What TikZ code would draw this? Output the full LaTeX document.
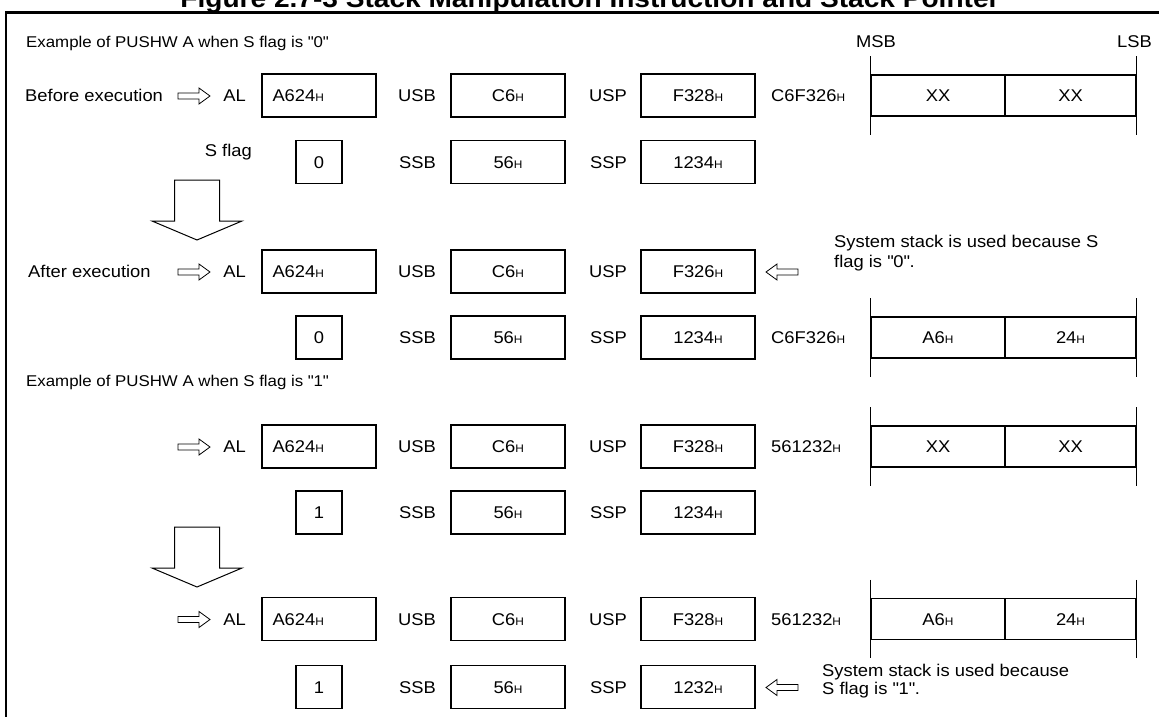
\documentclass[tikz,border=0pt]{standalone}
\usepackage{fontspec}
\setmainfont{Liberation Sans}[FakeStretch=1.08]
\newcommand\mfont{\fontsize{17}{19}\selectfont}
\newcommand\exfont{\fontsize{15.6}{18}\selectfont}
\newcommand\hsub{{\fontsize{11}{11}\selectfont H}}
\newcommand\qq{\textquotedbl}
\tikzset{
  lbl/.style={inner sep=0pt, font=\mfont, text height=12.2pt, text depth=0pt},
  exl/.style={inner sep=0pt, font=\exfont, text height=11.2pt, text depth=0pt},
  reg/.style={draw, line width=1.1pt, minimum width=114pt, minimum height=43pt, inner sep=0pt, font=\mfont, text height=12.2pt, text depth=0pt},
  regl/.style={reg, align=left, text width=93pt, inner xsep=10.5pt},
  fbox/.style={reg, minimum width=46pt},
  cell/.style={draw, line width=1.1pt, minimum height=41pt, inner sep=0pt, font=\mfont, text height=12.2pt, text depth=0pt},
  stk/.style={line width=1.1pt},
  hol/.style={line width=0.8pt, line join=miter},
  rarr/.pic={\draw[hol] (-16,-3) -- (5,-3) -- (5,-8) -- (16,0) -- (5,8) -- (5,3) -- (-16,3) -- cycle;},
  larr/.pic={\draw[hol] (16,-3) -- (-5,-3) -- (-5,-8) -- (-16,0) -- (-5,8) -- (-5,3) -- (16,3) -- cycle;},
  bigdown/.pic={\draw[line width=1pt, line join=miter] (-22.5,0) -- (22.5,0) -- (22.5,41) -- (45,41) -- (0,60) -- (-45,41) -- (-22.5,41) -- cycle;}
}
\begin{document}
\begin{tikzpicture}[x=1pt,y=-1pt]
\useasboundingbox (0,0) rectangle (1159,717);
\clip (0,0) rectangle (1159,717);
% title (cut off at the top, as in the source) and frame
\node[font=\bfseries\fontsize{26}{26}\selectfont, anchor=base, inner sep=0pt] (title) at (590,8) {Figure 2.7-3 Stack Manipulation Instruction and Stack Pointer};
\draw[line width=2.5pt, line join=miter] (6,720) -- (6,12.5) -- (1162,12.5);

% ---------- Example S = 0 ----------
\node[exl, anchor=west] (ex1) at (26,41.5) {Example of PUSHW A when S flag is \qq0\qq};
\node[lbl] (msb) at (876,41.5) {MSB};
\node[lbl] (lsb) at (1134.5,41.5) {LSB};

% Row A : before execution
\node[lbl, anchor=west] (bef) at (25,95.5) {Before execution};
\pic at (194,96) {rarr};
\node[lbl, anchor=east] (alA) at (246,95.5) {AL};
\node[regl] (rA1) at (319,95.5) {A624\hsub};
\node[lbl, anchor=east] (usbA) at (436,95.5) {USB};
\node[reg] (rA2) at (508,95.5) {C6\hsub};
\node[lbl, anchor=east] (uspA) at (627,95.5) {USP};
\node[reg] (rA3) at (698,95.5) {F328\hsub};
\node[lbl, anchor=west] (adA) at (771,95.5) {C6F326\hsub};
\node[cell, minimum width=134pt] (sA1) at (938,95.5) {XX};
\node[cell, minimum width=131pt] (sA2) at (1070.5,95.5) {XX};
\draw[stk] ([yshift=18pt]sA1.north west) -- ([yshift=-18pt]sA1.south west);
\draw[stk] ([yshift=18pt]sA2.north east) -- ([yshift=-18pt]sA2.south east);

% Row B
\node[lbl, anchor=east] (sflag) at (252,150) {S flag};
\node[fbox] (fB) at (319,162) {0};
\node[lbl, anchor=east] (ssbB) at (436,162) {SSB};
\node[reg] (rB2) at (508,162) {56\hsub};
\node[lbl, anchor=east] (sspB) at (627,162) {SSP};
\node[reg] (rB3) at (698,162) {1234\hsub};

\pic at (197,180) {bigdown};

% Row C : after execution
\node[lbl, anchor=west] (aft) at (28,271.5) {After execution};
\pic at (194,272) {rarr};
\node[lbl, anchor=east] (alC) at (246,271.5) {AL};
\node[regl] (rC1) at (319,271.5) {A624\hsub};
\node[lbl, anchor=east] (usbC) at (436,271.5) {USB};
\node[reg] (rC2) at (508,271.5) {C6\hsub};
\node[lbl, anchor=east] (uspC) at (627,271.5) {USP};
\node[reg] (rC3) at (698,271.5) {F326\hsub};
\pic at (782,272) {larr};
\node[lbl, anchor=west] (n1a) at (834,241.7) {System stack is used because S};
\node[lbl, anchor=west] (n1b) at (834,261.7) {flag is \qq0\qq.};

% Row D
\node[fbox] (fD) at (319,337.5) {0};
\node[lbl, anchor=east] (ssbD) at (436,337.5) {SSB};
\node[reg] (rD2) at (508,337.5) {56\hsub};
\node[lbl, anchor=east] (sspD) at (627,337.5) {SSP};
\node[reg] (rD3) at (698,337.5) {1234\hsub};
\node[lbl, anchor=west] (adD) at (771,337.5) {C6F326\hsub};
\node[cell, minimum width=134pt] (sD1) at (938,337.5) {A6\hsub};
\node[cell, minimum width=131pt] (sD2) at (1070.5,337.5) {24\hsub};
\draw[stk] ([yshift=18pt]sD1.north west) -- ([yshift=-18pt]sD1.south west);
\draw[stk] ([yshift=18pt]sD2.north east) -- ([yshift=-18pt]sD2.south east);

% ---------- Example S = 1 ----------
\node[exl, anchor=west] (ex2) at (26,381) {Example of PUSHW A when S flag is \qq1\qq};

% Row E
\pic at (194,447) {rarr};
\node[lbl, anchor=east] (alE) at (246,446.5) {AL};
\node[regl] (rE1) at (319,446.5) {A624\hsub};
\node[lbl, anchor=east] (usbE) at (436,446.5) {USB};
\node[reg] (rE2) at (508,446.5) {C6\hsub};
\node[lbl, anchor=east] (uspE) at (627,446.5) {USP};
\node[reg] (rE3) at (698,446.5) {F328\hsub};
\node[lbl, anchor=west] (adE) at (771,446.5) {561232\hsub};
\node[cell, minimum width=134pt] (sE1) at (938,446.5) {XX};
\node[cell, minimum width=131pt] (sE2) at (1070.5,446.5) {XX};
\draw[stk] ([yshift=18pt]sE1.north west) -- ([yshift=-18pt]sE1.south west);
\draw[stk] ([yshift=18pt]sE2.north east) -- ([yshift=-18pt]sE2.south east);

% Row F
\node[fbox] (fF) at (319,512.5) {1};
\node[lbl, anchor=east] (ssbF) at (436,512.5) {SSB};
\node[reg] (rF2) at (508,512.5) {56\hsub};
\node[lbl, anchor=east] (sspF) at (627,512.5) {SSP};
\node[reg] (rF3) at (698,512.5) {1234\hsub};

\pic at (197,527) {bigdown};

% Row G
\pic at (194,619.5) {rarr};
\node[lbl, anchor=east] (alG) at (246,619) {AL};
\node[regl] (rG1) at (319,619) {A624\hsub};
\node[lbl, anchor=east] (usbG) at (436,619) {USB};
\node[reg] (rG2) at (508,619) {C6\hsub};
\node[lbl, anchor=east] (uspG) at (627,619) {USP};
\node[reg] (rG3) at (698,619) {F328\hsub};
\node[lbl, anchor=west] (adG) at (771,619) {561232\hsub};
\node[cell, minimum width=134pt] (sG1) at (938,619) {A6\hsub};
\node[cell, minimum width=131pt] (sG2) at (1070.5,619) {24\hsub};
\draw[stk] ([yshift=18pt]sG1.north west) -- ([yshift=-18pt]sG1.south west);
\draw[stk] ([yshift=18pt]sG2.north east) -- ([yshift=-18pt]sG2.south east);

% Row H
\node[fbox] (fH) at (319,687) {1};
\node[lbl, anchor=east] (ssbH) at (436,687) {SSB};
\node[reg] (rH2) at (508,687) {56\hsub};
\node[lbl, anchor=east] (sspH) at (627,687) {SSP};
\node[reg] (rH3) at (698,687) {1232\hsub};
\pic at (782,687.5) {larr};
\node[lbl, anchor=west] (n2a) at (822,670) {System stack is used because};
\node[lbl, anchor=west] (n2b) at (822,688.5) {S flag is \qq1\qq.};
\end{tikzpicture}
\end{document}
